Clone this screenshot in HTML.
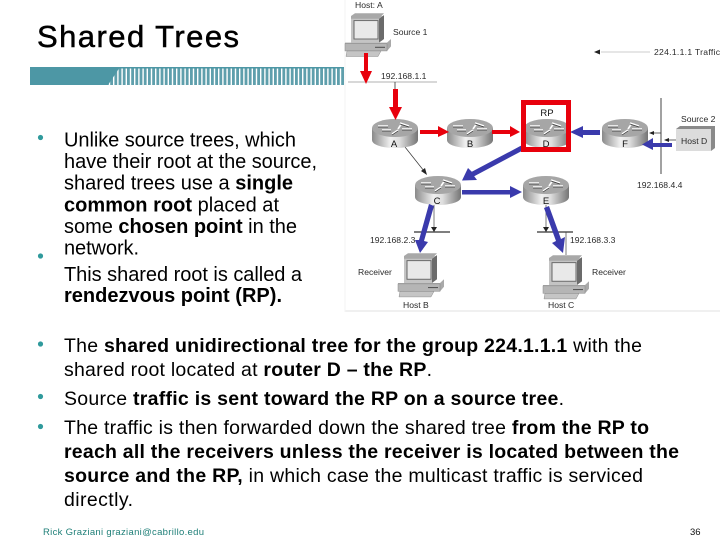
<!DOCTYPE html>
<html>
<head>
<meta charset="utf-8">
<title>Shared Trees</title>
<style>
html,body{margin:0;padding:0;background:#fff;width:720px;height:540px;overflow:hidden}
svg{display:block}
text{font-family:"Liberation Sans",sans-serif}
.b{font-size:20px;fill:#000}
.c{font-size:19.5px;fill:#000}
.l{font-size:8.6px;fill:#2a2a2a}
.r{font-size:9.5px;fill:#111;text-anchor:middle}
.s{font-weight:bold}
</style>
</head>
<body>
<svg width="720" height="540" viewBox="0 0 720 540" xmlns="http://www.w3.org/2000/svg">
<defs>
<pattern id="st" width="4.2" height="18" patternUnits="userSpaceOnUse" x="106">
<rect width="4.2" height="18" fill="#fff"/>
<rect width="2.8" height="18" fill="#5f9fac"/>
</pattern>
<linearGradient id="rg" x1="0" x2="1" y1="0" y2="0">
<stop offset="0" stop-color="#8a8a8a"/>
<stop offset=".4" stop-color="#f0f0f0"/>
<stop offset=".6" stop-color="#dedede"/>
<stop offset="1" stop-color="#757575"/>
</linearGradient>
<g id="router">
<path d="M-23,-6 V6 C-23,11 -12,14 0,14 C12,14 23,11 23,6 V-6 Z" fill="url(#rg)"/>
<ellipse cx="0" cy="-6" rx="23" ry="9" fill="#a6a6a6"/>
<path d="M-17,-8 L-7,-8 M-13,-4 L-4,-4 M5,-11 L14,-8 M3,-5 L7,-11 M-3,0 L3,-4 M7,-5 L17,-5" stroke="#fff" stroke-width="1.6" fill="none"/>
<path d="M-17,-7 L-7,-7 M-13,-3 L-4,-3 M5,-10 L14,-7 M-3,1 L3,-3 M7,-4 L17,-4" stroke="#333" stroke-width=".7" fill="none"/>
</g>
<g id="pc">
<path d="M6,0 H38 L34,3 V29 H6 Z" fill="#c4c4c4"/>
<path d="M34,3 L39,-1 V25 L34,29 Z" fill="#6b6b6b"/>
<path d="M6,0 L10,-3 H39 L34,3 H6 Z" fill="#a8a8a8"/>
<rect x="9" y="5" width="24" height="20" fill="#e9e9e9" stroke="#666"/>
<path d="M0,29 H42 L46,25 V33 L42,38 H0 Z" fill="#a9a9a9"/>
<rect x="0" y="30" width="42" height="8" fill="#b5b5b5" stroke="#888" stroke-width=".5"/>
<path d="M30,34 H40" stroke="#444"/>
<path d="M2,38 H36 L33,44 H1 Z" fill="#c5c5c5" stroke="#888" stroke-width=".5"/>
</g>
</defs>

<!-- title -->
<text x="37" y="47" font-size="31" stroke="#000" stroke-width=".5" textLength="202" fill="#000">Shared Trees</text>

<!-- band -->
<rect x="106" y="67" width="238" height="18" fill="url(#st)"/>
<rect x="30" y="67" width="314" height="1.5" fill="#4d97a5"/>
<path d="M30,67 H120 L108,85 H30 Z" fill="#4d97a5"/>

<!-- diagram backing -->
<rect x="345" y="0" width="375" height="310" fill="#fff"/>
<rect x="345" y="310" width="375" height="2" fill="#f0f0f0"/>
<path d="M345,0 V312" stroke="#f3f3f3"/>

<!-- thin lines -->
<path d="M348,82 H437" stroke="#999" stroke-width=".8"/>
<path d="M395,82 V100" stroke="#333" stroke-width=".8"/>
<path d="M405,147 L424,171" stroke="#333" stroke-width=".7"/>
<path d="M427,175 L421,171 L425,168 Z" fill="#222"/>
<path d="M661,98 V174" stroke="#444" stroke-width="1"/>
<path d="M414,232 H450 M537,232 H573" stroke="#333" stroke-width="1.2"/>
<path d="M434,205 V228 M546,205 V228 M566,232 V255 M422,232 V250" stroke="#444" stroke-width=".7"/>
<path d="M431,227 H437 L434,232 Z M543,227 H549 L546,232 Z" fill="#222"/>
<path d="M601,52 H650" stroke="#bbb" stroke-width=".8"/>
<path d="M594,52 L600,49.5 V54.5 Z" fill="#222"/>
<path d="M650,133 H661 M665,140 H676" stroke="#333" stroke-width=".8"/>
<path d="M649,133 L654,131 V135 Z M664,140 L669,138 V142 Z" fill="#222"/>

<!-- routers -->
<use href="#router" x="395" y="134"/>
<use href="#router" x="470" y="134"/>
<use href="#router" x="547" y="134"/>
<use href="#router" x="625" y="134"/>
<use href="#router" x="438" y="191"/>
<use href="#router" x="546" y="191"/>

<!-- host D -->
<path d="M676,129 L680,126 H715 V148 L711,151 H676 Z" fill="#8a8a8a"/>
<rect x="676" y="129" width="35" height="22" fill="#dcdcdc"/>

<!-- PCs -->
<use href="#pc" transform="translate(345,16) scale(1,.92)"/>
<use href="#pc" transform="translate(398,256) scale(1,.93)"/>
<use href="#pc" transform="translate(543,258) scale(1,.93)"/>

<!-- red arrows -->
<g fill="#e8000c">
<path d="M364,53 H368 V71 H372 L366,84 L360,71 H364 Z"/>
<path d="M393,89 H398 V107 H402 L395.5,120 L389,107 H393 Z"/>
<path d="M420,130 H438 V126 L449,132 L438,137 V134 H420 Z"/>
<path d="M492,130 H510 V126 L520,132 L510,137 V134 H492 Z"/>
</g>
<!-- blue arrows -->
<g fill="#3a3aac">
<path d="M600,130 V135 H583 V138 L570,132 L583,126 V130 Z"/>
<path d="M672,143 V147 H653 V150 L642,144.5 L653,138 V143 Z"/>
<path d="M520.8,145.8 L523.2,150.2 L474.2,176.2 L477,180 L462,180.5 L468,168 L471.8,171.8 Z"/>
<path d="M462,190 H510 V186 L522,192 L510,198 V194.5 H462 Z"/>
<path d="M429,204 L434,206 L424,241 L428,242 L420,253 L415,240 L419,240 Z"/>
<path d="M544,208 L549,206 L561,239 L565,237 L563,253 L552,243 L556,241 Z"/>
</g>

<!-- RP box -->
<rect x="523.5" y="102.5" width="45" height="47" fill="none" stroke="#e8000c" stroke-width="5"/>

<!-- router letters -->
<text class="r" x="394" y="147">A</text>
<text class="r" x="470" y="147">B</text>
<text class="r" x="546" y="147">D</text>
<text class="r" x="625" y="147">F</text>
<text class="r" x="437" y="204">C</text>
<text class="r" x="546" y="204">E</text>
<text class="r" x="547" y="116">RP</text>

<!-- diagram labels -->
<text class="l" x="355" y="8">Host: A</text>
<text class="l" x="393" y="35">Source 1</text>
<text class="l" x="381" y="79">192.168.1.1</text>
<text class="l" x="654" y="55" textLength="66">224.1.1.1 Traffic</text>
<text class="l" x="681" y="122">Source 2</text>
<text class="l" x="681" y="144">Host D</text>
<text class="l" x="637" y="188">192.168.4.4</text>
<text class="l" x="370" y="243">192.168.2.3</text>
<text class="l" x="570" y="243">192.168.3.3</text>
<text class="l" x="358" y="275">Receiver</text>
<text class="l" x="592" y="275">Receiver</text>
<text class="l" x="403" y="308">Host B</text>
<text class="l" x="548" y="308">Host C</text>

<!-- bullets -->
<g fill="#2f9a9c">
<circle cx="40.5" cy="137.5" r="2.6"/>
<circle cx="40.5" cy="256" r="2.6"/>
<circle cx="40.5" cy="344" r="2.6"/>
<circle cx="40.5" cy="396.5" r="2.6"/>
<circle cx="40.5" cy="426.5" r="2.6"/>
</g>

<!-- upper text -->
<text class="b" x="64" y="146.5" textLength="232">Unlike source trees, which</text>
<text class="b" x="64" y="168" textLength="253">have their root at the source,</text>
<text class="b" x="64" y="189.5" textLength="229">shared trees use a <tspan class="s">single</tspan></text>
<text class="b" x="64" y="211.5" textLength="215"><tspan class="s">common root</tspan> placed at</text>
<text class="b" x="64" y="233" textLength="233">some <tspan class="s">chosen point</tspan> in the</text>
<text class="b" x="64" y="254.5" textLength="75">network.</text>
<text class="b" x="64" y="281" textLength="238">This shared root is called a</text>
<text class="b" x="64" y="302" textLength="218"><tspan class="s">rendezvous point (RP).</tspan></text>

<!-- lower text -->
<text class="c" x="64" y="352" textLength="578">The <tspan class="s">shared unidirectional tree for the group 224.1.1.1</tspan> with the</text>
<text class="c" x="64" y="376" textLength="368">shared root located at <tspan class="s">router D – the RP</tspan>.</text>
<text class="c" x="64" y="405" textLength="500">Source <tspan class="s">traffic is sent toward the RP on a source tree</tspan>.</text>
<text class="c" x="64" y="434" textLength="585">The traffic is then forwarded down the shared tree <tspan class="s">from the RP to</tspan></text>
<text class="c" x="64" y="458" textLength="615"><tspan class="s">reach all the receivers unless the receiver is located between the</tspan></text>
<text class="c" x="64" y="482" textLength="579"><tspan class="s">source and the RP,</tspan> in which case the multicast traffic is serviced</text>
<text class="c" x="64" y="506" textLength="69">directly.</text>

<!-- footer -->
<text x="43" y="535" font-size="9.5" fill="#1f7f78" textLength="161">Rick Graziani  graziani@cabrillo.edu</text>
<text x="690" y="535" font-size="9.5" fill="#111">36</text>
</svg>
</body>
</html>
